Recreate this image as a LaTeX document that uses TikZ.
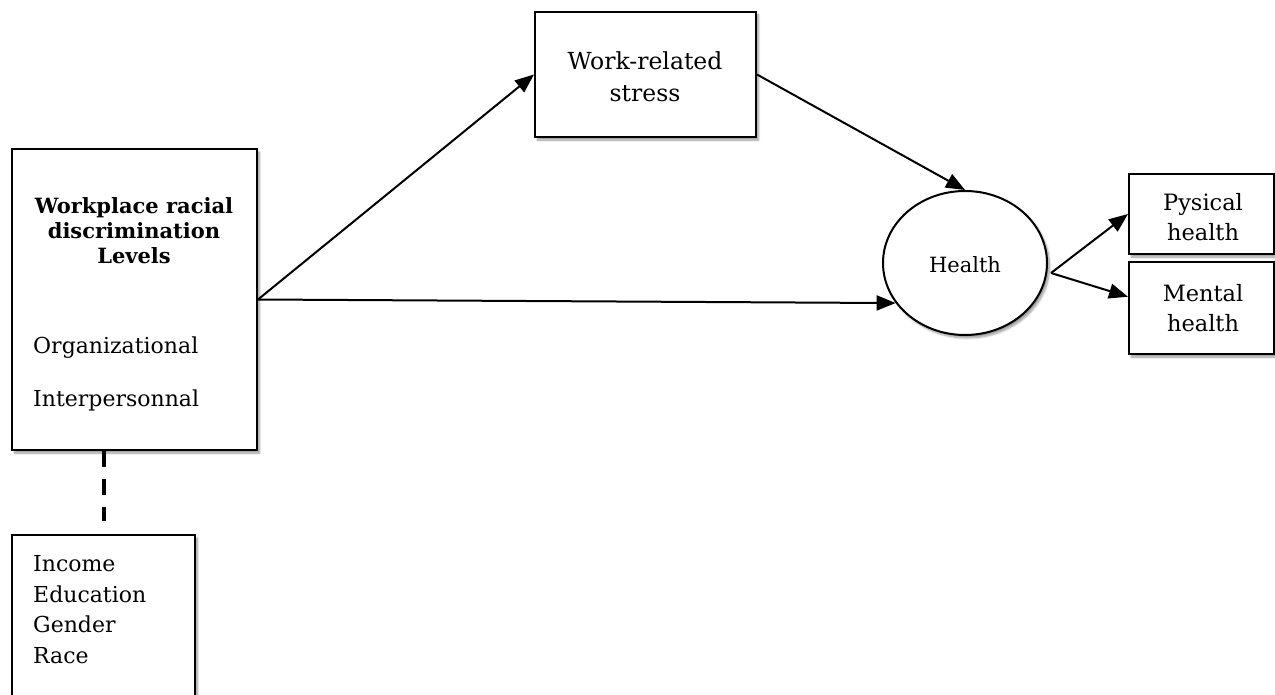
\documentclass[tikz,border=0pt]{standalone}
\usepackage{fontspec}
\setmainfont{DejaVu Serif}
\usetikzlibrary{arrows.meta,calc,shadows.blur,shapes.geometric}
\begin{document}
\begin{tikzpicture}[x=1pt,y=-1pt,
  every node/.style={font=\fontsize{22}{25}\selectfont},
  boxshape/.style={draw,line width=2pt,fill=white,inner sep=0pt,
    blur shadow={shadow xshift=2.5pt,shadow yshift=-3pt,shadow blur steps=6,shadow opacity=40}},
  txt/.style={inner sep=0pt,align=center},
  link/.style={line width=2pt,-{Triangle[length=19pt,width=15pt]}}]
\useasboundingbox (0,0) rectangle (1275,695);
\clip (0,0) rectangle (1275,695);

% boxes and the health ellipse
\node[boxshape,minimum width=245pt,minimum height=301pt] (main) at (134.5,299.5) {};
\node[boxshape,minimum width=183pt,minimum height=190pt] (demo) at (103.5,630) {};
\node[boxshape,minimum width=221pt,minimum height=125pt] (work) at (645.5,74.5) {};
\node[boxshape,ellipse,minimum width=164pt,minimum height=144pt] (health) at (965,263) {};
\node[boxshape,minimum width=145pt,minimum height=80pt] (phys) at (1201.5,214) {};
\node[boxshape,minimum width=145pt,minimum height=92pt] (ment) at (1201.5,308) {};

% texts
\node[txt,font=\bfseries\fontsize{21}{25}\selectfont] (mainT) at (134,231) {Workplace racial\\discrimination\\Levels};
\node[txt,anchor=base west] (org) at (33,353) {Organizational};
\node[txt,anchor=base west] (inter) at (33,406) {Interpersonnal};
\node[txt,anchor=base west] (inc) at (33,571) {Income};
\node[txt,anchor=base west] (edu) at (33,602) {Education};
\node[txt,anchor=base west] (gen) at (33,632) {Gender};
\node[txt,anchor=base west] (race) at (33,663) {Race};
\node[txt,font=\fontsize{23.5}{32}\selectfont] (workT) at (645,77) {Work-related\\stress};
\node[txt,font=\fontsize{21}{25}\selectfont] (healthT) at (965,265) {Health};
\node[txt,font=\fontsize{22.5}{30}\selectfont] (physT) at (1203,217) {Pysical\\health};
\node[txt,font=\fontsize{22.5}{30}\selectfont] (mentT) at (1203,308) {Mental\\health};

% connectors
\coordinate (hv) at (1051,273);
\draw[link] (main.east) -- (work.west);
\draw[link] (main.east) -- (health.210);
\draw[link] (work.east) -- (health.north);
\draw[link] (hv) -- (phys.west);
\draw[link] (hv) -- ($(ment.north west)!0.38!(ment.south west)$);
\draw[line width=4pt,dash pattern=on 16pt off 12pt,shorten >=13pt]
  (demo.north |- main.south) -- (demo.north);
\end{tikzpicture}
\end{document}
